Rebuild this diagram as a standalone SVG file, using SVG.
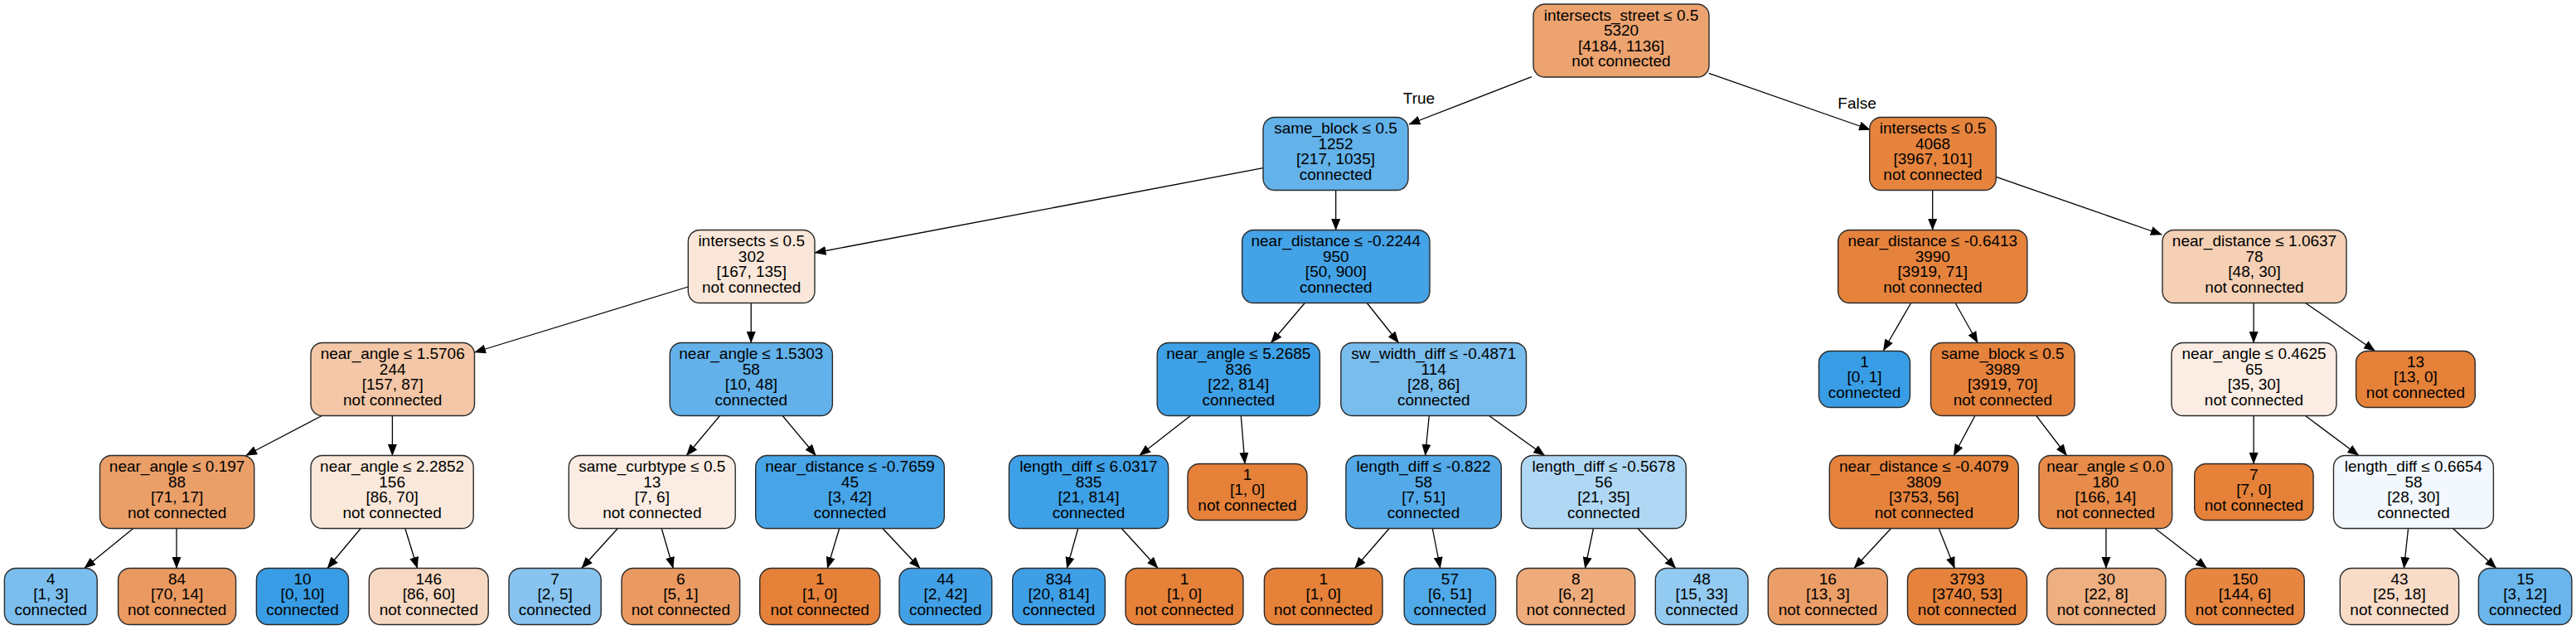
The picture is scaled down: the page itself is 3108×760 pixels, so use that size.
<svg xmlns="http://www.w3.org/2000/svg" width="3108" height="760" viewBox="0 0 3108 760">
<style>
.nd rect{stroke:#2a2a2a;stroke-width:1.4}
text{font-family:"Liberation Sans",Arial,sans-serif;font-size:18px;fill:#000;text-anchor:middle}
.ed line{stroke:#000;stroke-width:1.3;marker-end:url(#ah)}
</style>
<defs>
<marker id="ah" markerUnits="userSpaceOnUse" markerWidth="14" markerHeight="11" refX="13.5" refY="5.5" orient="auto"><path d="M0,0 L14,5.5 L0,11 z" fill="#000"/></marker>
</defs>
<rect width="3108" height="760" fill="#fff"/>
<g id="connectors" class="ed">
<line x1="1848" y1="92.7" x2="1700" y2="150"/>
<line x1="2061.7" y1="88.3" x2="2256.5" y2="156.5"/>
<line x1="1524" y1="202.7" x2="983" y2="305"/>
<line x1="1611.7" y1="229.5" x2="1611.7" y2="277.5"/>
<line x1="2331.7" y1="229.5" x2="2331.7" y2="277.5"/>
<line x1="2408.3" y1="213.3" x2="2608.3" y2="283"/>
<line x1="830.3" y1="346" x2="572.5" y2="425"/>
<line x1="906.2" y1="365.5" x2="906.2" y2="413.5"/>
<line x1="1574.3" y1="365.5" x2="1533.5" y2="413.5"/>
<line x1="1649.3" y1="365.5" x2="1687.5" y2="413.5"/>
<line x1="2305.7" y1="365.5" x2="2272.3" y2="423"/>
<line x1="2359.1" y1="365.5" x2="2386.1" y2="413.5"/>
<line x1="2719.1" y1="365.5" x2="2719.1" y2="413.5"/>
<line x1="2781.6" y1="365.5" x2="2865.5" y2="423.5"/>
<line x1="388.4" y1="501.5" x2="296.6" y2="549.5"/>
<line x1="473.4" y1="501.5" x2="473.4" y2="549.5"/>
<line x1="868.5" y1="501.5" x2="828.3" y2="549.5"/>
<line x1="944.1" y1="501.5" x2="984.3" y2="549.5"/>
<line x1="1436.4" y1="501.5" x2="1374.8" y2="549.5"/>
<line x1="1497.3" y1="501.5" x2="1502" y2="559.5"/>
<line x1="1724.3" y1="501.5" x2="1719.6" y2="549.5"/>
<line x1="1796.6" y1="501.5" x2="1863.6" y2="549.5"/>
<line x1="2382.9" y1="501.5" x2="2357.2" y2="549.5"/>
<line x1="2456.8" y1="501.5" x2="2493.5" y2="549.5"/>
<line x1="2719.1" y1="501.5" x2="2719.1" y2="559.5"/>
<line x1="2781.5" y1="501.5" x2="2845.8" y2="549.5"/>
<line x1="160.7" y1="637.5" x2="101.8" y2="685.5"/>
<line x1="213" y1="637.5" x2="213" y2="685.5"/>
<line x1="435.2" y1="637.5" x2="395" y2="685.5"/>
<line x1="488.8" y1="637.5" x2="503.6" y2="685.5"/>
<line x1="745.3" y1="637.5" x2="701.7" y2="685.5"/>
<line x1="798.2" y1="637.5" x2="812.2" y2="685.5"/>
<line x1="1012.7" y1="637.5" x2="998.3" y2="685.5"/>
<line x1="1065" y1="637.5" x2="1110" y2="685.5"/>
<line x1="1300.7" y1="637.5" x2="1287.3" y2="685.5"/>
<line x1="1353.3" y1="637.5" x2="1397" y2="685.5"/>
<line x1="1676.1" y1="637.5" x2="1634.6" y2="685.5"/>
<line x1="1728.3" y1="637.5" x2="1737.7" y2="685.5"/>
<line x1="1922.5" y1="637.5" x2="1912.4" y2="685.5"/>
<line x1="1976" y1="637.5" x2="2021.7" y2="685.5"/>
<line x1="2281.5" y1="637.5" x2="2237" y2="685.5"/>
<line x1="2339.3" y1="637.5" x2="2358.3" y2="685.5"/>
<line x1="2541" y1="637.5" x2="2541" y2="685.5"/>
<line x1="2600.2" y1="637.5" x2="2662.5" y2="685.5"/>
<line x1="2905.6" y1="637.5" x2="2900.4" y2="685.5"/>
<line x1="2959.6" y1="637.5" x2="3011.7" y2="685.5"/>
<text transform="translate(1712 125) scale(1.055 1)">True</text>
<text transform="translate(2240.5 131) scale(1.055 1)">False</text>
</g>
<g id="n0" class="nd"><rect x="1850" y="5" width="212" height="88" rx="14" fill="#eca36f"/><text transform="translate(1956 0) scale(1.055 1)"><tspan x="0" y="25">intersects_street ≤ 0.5</tspan><tspan x="0" y="43.5">5320</tspan><tspan x="0" y="62">[4184, 1136]</tspan><tspan x="0" y="80.5">not connected</tspan></text></g>
<g id="n1" class="nd"><rect x="1524" y="141.5" width="175" height="88" rx="14" fill="#63b2ea"/><text transform="translate(1611.5 0) scale(1.055 1)"><tspan x="0" y="161.5">same_block ≤ 0.5</tspan><tspan x="0" y="180">1252</tspan><tspan x="0" y="198.5">[217, 1035]</tspan><tspan x="0" y="217">connected</tspan></text></g>
<g id="n2" class="nd"><rect x="2255.7" y="141.5" width="152.6" height="88" rx="14" fill="#e6843e"/><text transform="translate(2332 0) scale(1.055 1)"><tspan x="0" y="161.5">intersects ≤ 0.5</tspan><tspan x="0" y="180">4068</tspan><tspan x="0" y="198.5">[3967, 101]</tspan><tspan x="0" y="217">not connected</tspan></text></g>
<g id="n3" class="nd"><rect x="830.3" y="277.5" width="152.7" height="88" rx="14" fill="#fae7d9"/><text transform="translate(906.7 0) scale(1.055 1)"><tspan x="0" y="297.5">intersects ≤ 0.5</tspan><tspan x="0" y="316">302</tspan><tspan x="0" y="334.5">[167, 135]</tspan><tspan x="0" y="353">not connected</tspan></text></g>
<g id="n4" class="nd"><rect x="1498.6" y="277.5" width="226.4" height="88" rx="14" fill="#44a2e6"/><text transform="translate(1611.8 0) scale(1.055 1)"><tspan x="0" y="297.5">near_distance ≤ -0.2244</tspan><tspan x="0" y="316">950</tspan><tspan x="0" y="334.5">[50, 900]</tspan><tspan x="0" y="353">connected</tspan></text></g>
<g id="n5" class="nd"><rect x="2217.7" y="277.5" width="228.2" height="88" rx="14" fill="#e5833d"/><text transform="translate(2331.8 0) scale(1.055 1)"><tspan x="0" y="297.5">near_distance ≤ -0.6413</tspan><tspan x="0" y="316">3990</tspan><tspan x="0" y="334.5">[3919, 71]</tspan><tspan x="0" y="353">not connected</tspan></text></g>
<g id="n6" class="nd"><rect x="2609" y="277.5" width="222" height="88" rx="14" fill="#f5d0b5"/><text transform="translate(2720 0) scale(1.055 1)"><tspan x="0" y="297.5">near_distance ≤ 1.0637</tspan><tspan x="0" y="316">78</tspan><tspan x="0" y="334.5">[48, 30]</tspan><tspan x="0" y="353">not connected</tspan></text></g>
<g id="n7" class="nd"><rect x="375" y="413.5" width="197.5" height="88" rx="14" fill="#f3c7a7"/><text transform="translate(473.7 0) scale(1.055 1)"><tspan x="0" y="433.5">near_angle ≤ 1.5706</tspan><tspan x="0" y="452">244</tspan><tspan x="0" y="470.5">[157, 87]</tspan><tspan x="0" y="489">not connected</tspan></text></g>
<g id="n8" class="nd"><rect x="808.2" y="413.5" width="196.2" height="88" rx="14" fill="#62b1ea"/><text transform="translate(906.3 0) scale(1.055 1)"><tspan x="0" y="433.5">near_angle ≤ 1.5303</tspan><tspan x="0" y="452">58</tspan><tspan x="0" y="470.5">[10, 48]</tspan><tspan x="0" y="489">connected</tspan></text></g>
<g id="n9" class="nd"><rect x="1396.2" y="413.5" width="196.2" height="88" rx="14" fill="#3ea0e6"/><text transform="translate(1494.3 0) scale(1.055 1)"><tspan x="0" y="433.5">near_angle ≤ 5.2685</tspan><tspan x="0" y="452">836</tspan><tspan x="0" y="470.5">[22, 814]</tspan><tspan x="0" y="489">connected</tspan></text></g>
<g id="n10" class="nd"><rect x="1617.8" y="413.5" width="223.7" height="88" rx="14" fill="#79bded"/><text transform="translate(1729.7 0) scale(1.055 1)"><tspan x="0" y="433.5">sw_width_diff ≤ -0.4871</tspan><tspan x="0" y="452">114</tspan><tspan x="0" y="470.5">[28, 86]</tspan><tspan x="0" y="489">connected</tspan></text></g>
<g id="n11" class="nd"><rect x="2194.5" y="423.5" width="110" height="68" rx="14" fill="#399de5"/><text transform="translate(2249.5 0) scale(1.055 1)"><tspan x="0" y="443">1</tspan><tspan x="0" y="461.5">[0, 1]</tspan><tspan x="0" y="480">connected</tspan></text></g>
<g id="n12" class="nd"><rect x="2329.5" y="413.5" width="173.6" height="88" rx="14" fill="#e5833d"/><text transform="translate(2416.3 0) scale(1.055 1)"><tspan x="0" y="433.5">same_block ≤ 0.5</tspan><tspan x="0" y="452">3989</tspan><tspan x="0" y="470.5">[3919, 70]</tspan><tspan x="0" y="489">not connected</tspan></text></g>
<g id="n13" class="nd"><rect x="2620" y="413.5" width="199" height="88" rx="14" fill="#fbede3"/><text transform="translate(2719.5 0) scale(1.055 1)"><tspan x="0" y="433.5">near_angle ≤ 0.4625</tspan><tspan x="0" y="452">65</tspan><tspan x="0" y="470.5">[35, 30]</tspan><tspan x="0" y="489">not connected</tspan></text></g>
<g id="n14" class="nd"><rect x="2842.6" y="423.5" width="143.7" height="68" rx="14" fill="#e58139"/><text transform="translate(2914.5 0) scale(1.055 1)"><tspan x="0" y="443">13</tspan><tspan x="0" y="461.5">[13, 0]</tspan><tspan x="0" y="480">not connected</tspan></text></g>
<g id="n15" class="nd"><rect x="120.5" y="549.5" width="186.2" height="88" rx="14" fill="#eb9f68"/><text transform="translate(213.6 0) scale(1.055 1)"><tspan x="0" y="569.5">near_angle ≤ 0.197</tspan><tspan x="0" y="588">88</tspan><tspan x="0" y="606.5">[71, 17]</tspan><tspan x="0" y="625">not connected</tspan></text></g>
<g id="n16" class="nd"><rect x="375" y="549.5" width="196.2" height="88" rx="14" fill="#fae8da"/><text transform="translate(473.1 0) scale(1.055 1)"><tspan x="0" y="569.5">near_angle ≤ 2.2852</tspan><tspan x="0" y="588">156</tspan><tspan x="0" y="606.5">[86, 70]</tspan><tspan x="0" y="625">not connected</tspan></text></g>
<g id="n17" class="nd"><rect x="686.3" y="549.5" width="200.9" height="88" rx="14" fill="#fbede3"/><text transform="translate(786.8 0) scale(1.055 1)"><tspan x="0" y="569.5">same_curbtype ≤ 0.5</tspan><tspan x="0" y="588">13</tspan><tspan x="0" y="606.5">[7, 6]</tspan><tspan x="0" y="625">not connected</tspan></text></g>
<g id="n18" class="nd"><rect x="911.7" y="549.5" width="227.6" height="88" rx="14" fill="#47a4e7"/><text transform="translate(1025.5 0) scale(1.055 1)"><tspan x="0" y="569.5">near_distance ≤ -0.7659</tspan><tspan x="0" y="588">45</tspan><tspan x="0" y="606.5">[3, 42]</tspan><tspan x="0" y="625">connected</tspan></text></g>
<g id="n19" class="nd"><rect x="1217.4" y="549.5" width="192.2" height="88" rx="14" fill="#3ea0e6"/><text transform="translate(1313.5 0) scale(1.055 1)"><tspan x="0" y="569.5">length_diff ≤ 6.0317</tspan><tspan x="0" y="588">835</tspan><tspan x="0" y="606.5">[21, 814]</tspan><tspan x="0" y="625">connected</tspan></text></g>
<g id="n20" class="nd"><rect x="1433" y="559.5" width="144" height="68" rx="14" fill="#e58139"/><text transform="translate(1505 0) scale(1.055 1)"><tspan x="0" y="579">1</tspan><tspan x="0" y="597.5">[1, 0]</tspan><tspan x="0" y="616">not connected</tspan></text></g>
<g id="n21" class="nd"><rect x="1623.9" y="549.5" width="187.4" height="88" rx="14" fill="#54aae9"/><text transform="translate(1717.6 0) scale(1.055 1)"><tspan x="0" y="569.5">length_diff ≤ -0.822</tspan><tspan x="0" y="588">58</tspan><tspan x="0" y="606.5">[7, 51]</tspan><tspan x="0" y="625">connected</tspan></text></g>
<g id="n22" class="nd"><rect x="1835.4" y="549.5" width="198.9" height="88" rx="14" fill="#b0d8f5"/><text transform="translate(1934.9 0) scale(1.055 1)"><tspan x="0" y="569.5">length_diff ≤ -0.5678</tspan><tspan x="0" y="588">56</tspan><tspan x="0" y="606.5">[21, 35]</tspan><tspan x="0" y="625">connected</tspan></text></g>
<g id="n23" class="nd"><rect x="2207.3" y="549.5" width="228" height="88" rx="14" fill="#e5833c"/><text transform="translate(2321.3 0) scale(1.055 1)"><tspan x="0" y="569.5">near_distance ≤ -0.4079</tspan><tspan x="0" y="588">3809</tspan><tspan x="0" y="606.5">[3753, 56]</tspan><tspan x="0" y="625">not connected</tspan></text></g>
<g id="n24" class="nd"><rect x="2460" y="549.5" width="160.7" height="88" rx="14" fill="#e78c4a"/><text transform="translate(2540.4 0) scale(1.055 1)"><tspan x="0" y="569.5">near_angle ≤ 0.0</tspan><tspan x="0" y="588">180</tspan><tspan x="0" y="606.5">[166, 14]</tspan><tspan x="0" y="625">not connected</tspan></text></g>
<g id="n25" class="nd"><rect x="2647.7" y="559.5" width="143.4" height="68" rx="14" fill="#e58139"/><text transform="translate(2719.4 0) scale(1.055 1)"><tspan x="0" y="579">7</tspan><tspan x="0" y="597.5">[7, 0]</tspan><tspan x="0" y="616">not connected</tspan></text></g>
<g id="n26" class="nd"><rect x="2815.5" y="549.5" width="192.9" height="88" rx="14" fill="#f2f8fd"/><text transform="translate(2912 0) scale(1.055 1)"><tspan x="0" y="569.5">length_diff ≤ 0.6654</tspan><tspan x="0" y="588">58</tspan><tspan x="0" y="606.5">[28, 30]</tspan><tspan x="0" y="625">connected</tspan></text></g>
<g id="n27" class="nd"><rect x="5.4" y="685.5" width="111.8" height="68" rx="14" fill="#7bbeee"/><text transform="translate(61.3 0) scale(1.055 1)"><tspan x="0" y="705">4</tspan><tspan x="0" y="723.5">[1, 3]</tspan><tspan x="0" y="742">connected</tspan></text></g>
<g id="n28" class="nd"><rect x="142.6" y="685.5" width="142" height="68" rx="14" fill="#ea9a61"/><text transform="translate(213.6 0) scale(1.055 1)"><tspan x="0" y="705">84</tspan><tspan x="0" y="723.5">[70, 14]</tspan><tspan x="0" y="742">not connected</tspan></text></g>
<g id="n29" class="nd"><rect x="309.4" y="685.5" width="111.1" height="68" rx="14" fill="#399de5"/><text transform="translate(365 0) scale(1.055 1)"><tspan x="0" y="705">10</tspan><tspan x="0" y="723.5">[0, 10]</tspan><tspan x="0" y="742">connected</tspan></text></g>
<g id="n30" class="nd"><rect x="445.3" y="685.5" width="143.9" height="68" rx="14" fill="#f7d9c3"/><text transform="translate(517.3 0) scale(1.055 1)"><tspan x="0" y="705">146</tspan><tspan x="0" y="723.5">[86, 60]</tspan><tspan x="0" y="742">not connected</tspan></text></g>
<g id="n31" class="nd"><rect x="614" y="685.5" width="111.2" height="68" rx="14" fill="#88c4ef"/><text transform="translate(669.6 0) scale(1.055 1)"><tspan x="0" y="705">7</tspan><tspan x="0" y="723.5">[2, 5]</tspan><tspan x="0" y="742">connected</tspan></text></g>
<g id="n32" class="nd"><rect x="750" y="685.5" width="142.6" height="68" rx="14" fill="#ea9a61"/><text transform="translate(821.3 0) scale(1.055 1)"><tspan x="0" y="705">6</tspan><tspan x="0" y="723.5">[5, 1]</tspan><tspan x="0" y="742">not connected</tspan></text></g>
<g id="n33" class="nd"><rect x="916.7" y="685.5" width="145" height="68" rx="14" fill="#e58139"/><text transform="translate(989.2 0) scale(1.055 1)"><tspan x="0" y="705">1</tspan><tspan x="0" y="723.5">[1, 0]</tspan><tspan x="0" y="742">not connected</tspan></text></g>
<g id="n34" class="nd"><rect x="1085" y="685.5" width="111.7" height="68" rx="14" fill="#42a1e6"/><text transform="translate(1140.8 0) scale(1.055 1)"><tspan x="0" y="705">44</tspan><tspan x="0" y="723.5">[2, 42]</tspan><tspan x="0" y="742">connected</tspan></text></g>
<g id="n35" class="nd"><rect x="1221.7" y="685.5" width="111.6" height="68" rx="14" fill="#3e9fe6"/><text transform="translate(1277.5 0) scale(1.055 1)"><tspan x="0" y="705">834</tspan><tspan x="0" y="723.5">[20, 814]</tspan><tspan x="0" y="742">connected</tspan></text></g>
<g id="n36" class="nd"><rect x="1358" y="685.5" width="142" height="68" rx="14" fill="#e58139"/><text transform="translate(1429 0) scale(1.055 1)"><tspan x="0" y="705">1</tspan><tspan x="0" y="723.5">[1, 0]</tspan><tspan x="0" y="742">not connected</tspan></text></g>
<g id="n37" class="nd"><rect x="1525.4" y="685.5" width="142.6" height="68" rx="14" fill="#e58139"/><text transform="translate(1596.7 0) scale(1.055 1)"><tspan x="0" y="705">1</tspan><tspan x="0" y="723.5">[1, 0]</tspan><tspan x="0" y="742">not connected</tspan></text></g>
<g id="n38" class="nd"><rect x="1694.2" y="685.5" width="110.4" height="68" rx="14" fill="#50a9e8"/><text transform="translate(1749.4 0) scale(1.055 1)"><tspan x="0" y="705">57</tspan><tspan x="0" y="723.5">[6, 51]</tspan><tspan x="0" y="742">connected</tspan></text></g>
<g id="n39" class="nd"><rect x="1830" y="685.5" width="142.7" height="68" rx="14" fill="#eeab7b"/><text transform="translate(1901.4 0) scale(1.055 1)"><tspan x="0" y="705">8</tspan><tspan x="0" y="723.5">[6, 2]</tspan><tspan x="0" y="742">not connected</tspan></text></g>
<g id="n40" class="nd"><rect x="1997.3" y="685.5" width="111.7" height="68" rx="14" fill="#93caf1"/><text transform="translate(2053.2 0) scale(1.055 1)"><tspan x="0" y="705">48</tspan><tspan x="0" y="723.5">[15, 33]</tspan><tspan x="0" y="742">connected</tspan></text></g>
<g id="n41" class="nd"><rect x="2133.3" y="685.5" width="144" height="68" rx="14" fill="#eb9e67"/><text transform="translate(2205.3 0) scale(1.055 1)"><tspan x="0" y="705">16</tspan><tspan x="0" y="723.5">[13, 3]</tspan><tspan x="0" y="742">not connected</tspan></text></g>
<g id="n42" class="nd"><rect x="2301.5" y="685.5" width="144" height="68" rx="14" fill="#e5833c"/><text transform="translate(2373.5 0) scale(1.055 1)"><tspan x="0" y="705">3793</tspan><tspan x="0" y="723.5">[3740, 53]</tspan><tspan x="0" y="742">not connected</tspan></text></g>
<g id="n43" class="nd"><rect x="2469.7" y="685.5" width="143.3" height="68" rx="14" fill="#eeaf81"/><text transform="translate(2541.4 0) scale(1.055 1)"><tspan x="0" y="705">30</tspan><tspan x="0" y="723.5">[22, 8]</tspan><tspan x="0" y="742">not connected</tspan></text></g>
<g id="n44" class="nd"><rect x="2636.8" y="685.5" width="143.4" height="68" rx="14" fill="#e68641"/><text transform="translate(2708.5 0) scale(1.055 1)"><tspan x="0" y="705">150</tspan><tspan x="0" y="723.5">[144, 6]</tspan><tspan x="0" y="742">not connected</tspan></text></g>
<g id="n45" class="nd"><rect x="2823.3" y="685.5" width="143.3" height="68" rx="14" fill="#f8dcc8"/><text transform="translate(2895 0) scale(1.055 1)"><tspan x="0" y="705">43</tspan><tspan x="0" y="723.5">[25, 18]</tspan><tspan x="0" y="742">not connected</tspan></text></g>
<g id="n46" class="nd"><rect x="2990.4" y="685.5" width="112.5" height="68" rx="14" fill="#6ab6ec"/><text transform="translate(3046.7 0) scale(1.055 1)"><tspan x="0" y="705">15</tspan><tspan x="0" y="723.5">[3, 12]</tspan><tspan x="0" y="742">connected</tspan></text></g>
</svg>
